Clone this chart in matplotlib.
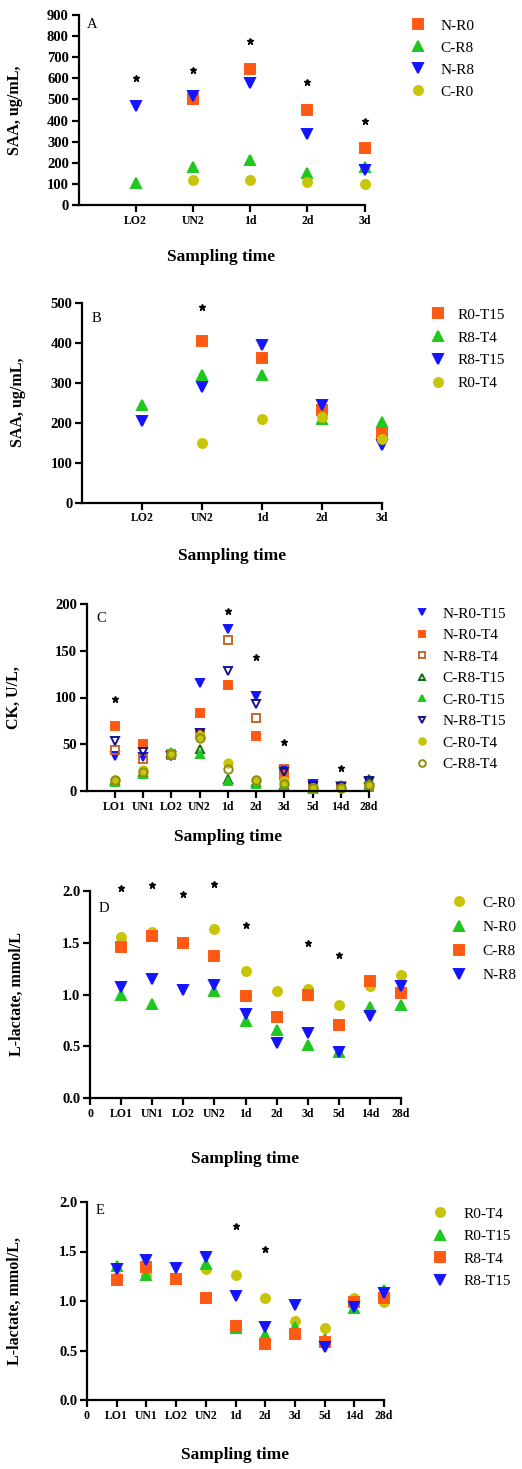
#!/usr/bin/env python3
# -*- coding: utf-8 -*-

import numpy as np
import matplotlib
matplotlib.use('Agg')
import matplotlib.pyplot as plt

nan = np.nan

#------------------------------------------------------------------------------
# Data
#------------------------------------------------------------------------------
# Panel A : SAA by group
time_a   = ['LO2', 'UN2', '1d', '2d', '3d']
a_n_r0   = [nan, 500, 645, 450, 270]
a_c_r8   = [105, 178, 215, 150, 178]
a_n_r8   = [470, 515, 578, 338, 165]
a_c_r0   = [nan, 120, 118, 110, 100]
star_a   = [600, 640, 775, 585, 400]

# Panel B : SAA by transport
time_b    = ['LO2', 'UN2', '1d', '2d', '3d']
b_r0_t15  = [nan, 405, 362, 232, 175]
b_r8_t4   = [245, 318, 318, 210, 202]
b_r8_t15  = [205, 290, 393, 245, 143]
b_r0_t4   = [nan, 148, 210, 215, 158]
star_b    = [nan, 488, nan, nan, nan]

# Panel C : CK
time_c      = ['LO1', 'UN1', 'LO2', 'UN2', '1d', '2d', '3d', '5d', '14d', '28d']
c_n_r0_t15  = [37, 36, 37, 116, 173, 102, 22, 8, 5, 10]
c_n_r0_t4   = [69, 50, 40, 83, 113, 59, 17, 4, 4, 4]
c_n_r8_t4   = [44, 34, 39, 61, 161, 78, 24, 4, 5, 4]
c_c_r8_t15  = [12, 20, 41, 45, 13, 10, 6, 3, 6, 13]
c_c_r0_t15  = [10, 18, 42, 40, 11, 8, 4, 2, 5, 7]
c_n_r8_t15  = [54, 42, 37, 62, 128, 93, 20, 5, 4, 11]
c_c_r0_t4   = [12, 22, 40, 59, 30, 12, 11, 3, 3, 6]
c_c_r8_t4   = [12, 20, 40, 57, 24, 12, 8, 3, 3, 6]
star_c      = [98, nan, nan, nan, 192, 143, 52, nan, 25, nan]

# Panel D : L-lactate by group
time_d  = ['0', 'LO1', 'UN1', 'LO2', 'UN2', '1d', '2d', '3d', '5d', '14d', '28d']
d_c_r0  = [nan, 1.56, 1.60, nan, 1.63, 1.23, 1.03, 1.05, 0.90, 1.08, 1.19]
d_n_r0  = [nan, 1.00, 0.91, nan, 1.03, 0.74, 0.66, 0.51, 0.44, 0.88, 0.90]
d_c_r8  = [nan, 1.46, 1.57, 1.50, 1.37, 0.99, 0.78, 1.00, 0.71, 1.13, 1.01]
d_n_r8  = [nan, 1.07, 1.15, 1.04, 1.09, 0.81, 0.53, 0.63, 0.44, 0.79, 1.08]
star_d  = [nan, 2.03, 2.06, 1.97, 2.07, 1.67, nan, 1.50, 1.38, nan, nan]

# Panel E : L-lactate by transport
time_e    = ['0', 'LO1', 'UN1', 'LO2', 'UN2', '1d', '2d', '3d', '5d', '14d', '28d']
e_r0_t4   = [nan, 1.24, 1.26, nan, 1.32, 1.26, 1.03, 0.80, 0.73, 1.03, 0.99]
e_r0_t15  = [nan, 1.35, 1.26, nan, 1.37, 0.73, 0.66, 0.74, 0.62, 0.93, 1.11]
e_r8_t4   = [nan, 1.21, 1.34, 1.22, 1.03, 0.75, 0.57, 0.67, 0.59, 0.99, 1.03]
e_r8_t15  = [nan, 1.32, 1.41, 1.33, 1.44, 1.05, 0.74, 0.96, 0.54, 0.94, 1.08]
star_e    = [nan, nan, nan, nan, nan, 1.76, 1.53, nan, nan, nan, nan]

#------------------------------------------------------------------------------
# Style
#------------------------------------------------------------------------------
W, H = 522, 1469
FONT = 'Liberation Serif'

ORANGE = '#ff5a14'
GREEN  = '#1ec81e'
BLUE   = '#1414ff'
OLIVE  = '#c8c40a'
BROWN  = '#c8682a'
DGREEN = '#0a6e0a'
NAVY   = '#14148c'
DOLIVE = '#8c8c14'

def fx(px):
  return px / W

def fy(py):
  return 1.0 - py / H

#------------------------------------------------------------------------------
# Draw one panel
#------------------------------------------------------------------------------
def draw_panel(fig, rect, labels, series, stars, ymax, ystep, yfmt, letter,
               ylabel, zero_tick, ms, leg):

  left, top, right, bottom = rect
  ax = fig.add_axes([fx(left), fy(bottom), fx(right) - fx(left),
                     fy(top) - fy(bottom)])

  # Positions
  if zero_tick:
    xpos = np.arange(len(labels))
  else:
    xpos = np.arange(1, len(labels) + 1)

  # Series
  handles = []
  for name, values, marker, face, edge in series:
    h, = ax.plot(xpos, values, ls='none', marker=marker, ms=ms,
                 mfc=face, mec=edge, mew=1.4, label=name, clip_on=False)
    handles.append(h)

  # Stars
  ax.plot(xpos, stars, ls='none', marker='*', ms=5, color='black',
          clip_on=False)

  # Axes
  ax.set_xlim(0, len(labels) - 1 if zero_tick else len(labels))
  ax.set_ylim(0, ymax)
  ax.set_xticks(xpos)
  ax.set_xticklabels(labels)
  ax.set_yticks(np.arange(0, ymax + ystep / 2, ystep))
  ax.yaxis.set_major_formatter(matplotlib.ticker.FormatStrFormatter(yfmt))
  for s in ['top', 'right']:
    ax.spines[s].set_visible(False)
  for s in ['left', 'bottom']:
    ax.spines[s].set_linewidth(1.6)
  ax.tick_params(axis='both', direction='out', length=5, width=1.6, pad=2)
  for t in ax.get_yticklabels():
    t.set_fontfamily(FONT)
    t.set_fontweight('bold')
    t.set_fontsize(10.5)
  for t in ax.get_xticklabels():
    t.set_fontfamily(FONT)
    t.set_fontweight('bold')
    t.set_fontsize(8.5)

  # Labels
  ax.set_ylabel(ylabel, fontfamily=FONT, fontweight='bold', fontsize=11.5)
  ax.yaxis.set_label_coords(fx(leg['ylab_x']), 0.5 * (fy(top) + fy(bottom)),
                            transform=fig.transFigure)
  ax.set_xlabel('Sampling time', fontfamily=FONT, fontweight='bold',
                fontsize=12.5)
  ax.xaxis.set_label_coords(0.5 * (fx(left) + fx(right)), fy(leg['xlab_y']),
                            transform=fig.transFigure)
  ax.xaxis.label.set_va('center')

  # Letter
  fig.text(fx(leg['let_x']), fy(leg['let_y']), letter, fontfamily=FONT,
           fontsize=10.5, ha='left', va='center')

  # Legend
  fig.legend(handles=handles, loc='upper left',
             bbox_to_anchor=(fx(leg['x']), fy(leg['y'])),
             bbox_transform=fig.transFigure, frameon=False, borderpad=0,
             borderaxespad=0, handlelength=1.0,
             handletextpad=leg['pad'], labelspacing=leg['sp'],
             markerscale=leg['scale'],
             prop={'family': FONT, 'size': 11})

  return ax

#------------------------------------------------------------------------------
# Main
#------------------------------------------------------------------------------
def main():

  fig = plt.figure(figsize=(W / 100, H / 100), dpi=100)

  # Panel A
  series_a = [('N-R0', a_n_r0, 's', ORANGE, ORANGE),
              ('C-R8', a_c_r8, '^', GREEN, GREEN),
              ('N-R8', a_n_r8, 'v', BLUE, BLUE),
              ('C-R0', a_c_r0, 'o', OLIVE, OLIVE)]
  draw_panel(fig, (78.5, 15, 364.5, 205), time_a, series_a, star_a,
             900, 100, '%d', 'A', 'SAA, ug/mL,', False, 6.5,
             dict(x=410.5, y=19, pad=0.94, sp=0.54, scale=1.0,
                  ylab_x=23, xlab_y=257, let_x=87, let_y=25))

  # Panel B
  series_b = [('R0-T15', b_r0_t15, 's', ORANGE, ORANGE),
              ('R8-T4', b_r8_t4, '^', GREEN, GREEN),
              ('R8-T15', b_r8_t15, 'v', BLUE, BLUE),
              ('R0-T4', b_r0_t4, 'o', OLIVE, OLIVE)]
  draw_panel(fig, (82, 302.7, 382, 502.5), time_b, series_b, star_b,
             500, 100, '%d', 'B', 'SAA, ug/mL,', False, 6.5,
             dict(x=430.5, y=308, pad=0.74, sp=0.6, scale=1.0,
                  ylab_x=26, xlab_y=556, let_x=92, let_y=319))

  # Panel C
  series_c = [('N-R0-T15', c_n_r0_t15, 'v', BLUE, BLUE),
              ('N-R0-T4', c_n_r0_t4, 's', ORANGE, ORANGE),
              ('N-R8-T4', c_n_r8_t4, 's', 'none', BROWN),
              ('C-R8-T15', c_c_r8_t15, '^', 'none', DGREEN),
              ('C-R0-T15', c_c_r0_t15, '^', GREEN, GREEN),
              ('N-R8-T15', c_n_r8_t15, 'v', 'none', NAVY),
              ('C-R0-T4', c_c_r0_t4, 'o', OLIVE, OLIVE),
              ('C-R8-T4', c_c_r8_t4, 'o', 'none', DOLIVE)]
  draw_panel(fig, (86.5, 604, 369, 791), time_c, series_c, star_c,
             200, 50, '%d', 'C', 'CK, U/L,', False, 6,
             dict(x=414.5, y=607, pad=0.81, sp=0.51, scale=0.8,
                  ylab_x=22, xlab_y=837, let_x=96, let_y=619))

  # Panel D
  series_d = [('C-R0', d_c_r0, 'o', OLIVE, OLIVE),
              ('N-R0', d_n_r0, '^', GREEN, GREEN),
              ('C-R8', d_c_r8, 's', ORANGE, ORANGE),
              ('N-R8', d_n_r8, 'v', BLUE, BLUE)]
  draw_panel(fig, (90, 891, 401, 1098), time_d, series_d, star_d,
             2.0, 0.5, '%.1f', 'D', 'L-lactate, mmol/L', True, 6.5,
             dict(x=451.5, y=896, pad=1.0, sp=0.69, scale=1.0,
                  ylab_x=25, xlab_y=1159, let_x=99, let_y=909))

  # Panel E
  series_e = [('R0-T4', e_r0_t4, 'o', OLIVE, OLIVE),
              ('R0-T15', e_r0_t15, '^', GREEN, GREEN),
              ('R8-T4', e_r8_t4, 's', ORANGE, ORANGE),
              ('R8-T15', e_r8_t15, 'v', BLUE, BLUE)]
  draw_panel(fig, (87, 1202, 384, 1400), time_e, series_e, star_e,
             2.0, 0.5, '%.1f', 'E', 'L-lactate, mmol/L,', True, 6.5,
             dict(x=432.5, y=1207, pad=1.0, sp=0.58, scale=1.0,
                  ylab_x=23, xlab_y=1455, let_x=96, let_y=1210))

  # Save figure
  fig.savefig('out.png', dpi=100)
  plt.close(fig)

#------------------------------------------------------------------------------
# Call main
#------------------------------------------------------------------------------
if __name__ == '__main__':
  main()
